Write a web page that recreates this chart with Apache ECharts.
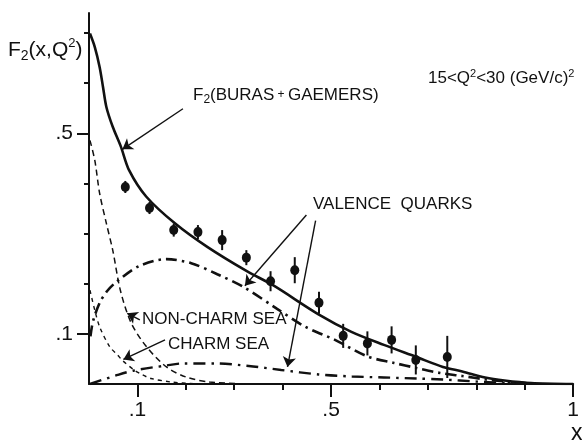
<!DOCTYPE html>
<html>
<head>
<meta charset="utf-8">
<script src="https://cdn.jsdelivr.net/npm/echarts@6/dist/echarts.min.js"></script>
<style>
  html, body { margin: 0; padding: 0; background: #fff; }
  #chart { width: 582px; height: 444px; }
</style>
</head>
<body>
<div id="chart"></div>
<script>
// Structure function F2(x,Q^2) for 15 < Q^2 < 30 (GeV/c)^2 with its model components.

// Measured F2 points (bin centres in x), values and errors
const measX   = [0.075, 0.125, 0.175, 0.225, 0.275, 0.325, 0.375, 0.425, 0.475, 0.525, 0.575, 0.625, 0.675, 0.74];
const measF2  = [0.393, 0.351, 0.307, 0.303, 0.287, 0.252, 0.205, 0.227, 0.162, 0.096, 0.081, 0.088, 0.048, 0.054];
const measErr = [0.012, 0.012, 0.013, 0.014, 0.020, 0.015, 0.020, 0.026, 0.022, 0.024, 0.024, 0.027, 0.029, 0.042];

// F2 from the Buras-Gaemers parametrisation
const f2X = [0.002, 0.012, 0.022, 0.029, 0.036, 0.049, 0.066, 0.083, 0.118, 0.178, 0.245, 0.326, 0.38, 0.474, 0.542, 0.609, 0.676, 0.731, 0.771, 0.818, 0.858, 0.913, 1.0];
const f2Y = [0.699, 0.672, 0.632, 0.592, 0.552, 0.513, 0.473, 0.426, 0.374, 0.320, 0.273, 0.225, 0.197, 0.139, 0.104, 0.078, 0.054, 0.034, 0.025, 0.013, 0.007, 0.002, 0];

// Valence quark contributions (larger and smaller)
const valUX = [0.003, 0.008, 0.022, 0.038, 0.057, 0.103, 0.16, 0.211, 0.265, 0.32, 0.387, 0.447, 0.508, 0.575, 0.63, 0.676, 0.725, 0.771, 0.82, 0.86, 0.92];
const valUY = [0.095, 0.124, 0.162, 0.186, 0.204, 0.235, 0.249, 0.241, 0.219, 0.193, 0.151, 0.114, 0.088, 0.055, 0.042, 0.032, 0.022, 0.016, 0.009, 0.005, 0.001];
const valDX = [0.002, 0.059, 0.093, 0.16, 0.194, 0.261, 0.33, 0.397, 0.474, 0.543, 0.609, 0.676, 0.731, 0.8, 0.88];
const valDY = [0, 0.018, 0.027, 0.037, 0.041, 0.041, 0.036, 0.028, 0.019, 0.015, 0.013, 0.011, 0.009, 0.005, 0.001];

// Sea contributions
const nonCharmX = [0.002, 0.012, 0.022, 0.036, 0.049, 0.065, 0.087, 0.119, 0.16, 0.2, 0.249, 0.33];
const nonCharmY = [0.486, 0.446, 0.38, 0.32, 0.267, 0.186, 0.122, 0.074, 0.034, 0.014, 0.004, 0];
const charmX = [0.002, 0.012, 0.022, 0.043, 0.059, 0.069, 0.093, 0.109, 0.128, 0.17, 0.225];
const charmY = [0.187, 0.147, 0.114, 0.074, 0.058, 0.047, 0.028, 0.019, 0.011, 0.004, 0];

// Axis ticks and labels
const xMinorTicks = [0.1, 0.2, 0.3, 0.4, 0.5, 0.6, 0.7, 0.8, 0.9, 1.0];
const xMajorTicks = [0.1, 0.5, 1.0];
const xTickLabels = ['.1', '.5', '1'];
const yMinorTicks = [0.1, 0.2, 0.3, 0.4, 0.5, 0.6, 0.7];
const yMajorTicks = [0.1, 0.5];
const yTickLabels = ['.1', '.5'];

const INK = '#111111';
const FONT = '"Liberation Sans", Arial, sans-serif';

const zip = (xs, ys) => xs.map((x, i) => [x, ys[i]]);
const labelFor = (ticks, labels) => v => {
  const i = ticks.findIndex(t => Math.abs(t - v) < 1e-6);
  return i >= 0 ? labels[i] : '';
};

function curve(name, xs, ys, width, type) {
  return {
    name, type: 'line', data: zip(xs, ys),
    xAxisIndex: 0, yAxisIndex: 0,
    showSymbol: false, symbol: 'none',
    smooth: 0.3,
    lineStyle: { color: INK, width, type },
    silent: true, z: 3
  };
}

// Annotation arrows in data coordinates: [from, to]
const arrows = [
  [[0.194, 0.549], [0.069, 0.468]],
  [[0.449, 0.337], [0.322, 0.196]],
  [[0.468, 0.326], [0.410, 0.034]],
  [[0.105, 0.128], [0.079, 0.141]],
  [[0.157, 0.088], [0.071, 0.049]]
];

const chart = echarts.init(document.getElementById('chart'), null, { renderer: 'canvas' });

const baseX = {
  type: 'value', min: 0, max: 1, interval: 0.1, position: 'bottom', offset: 0,
  splitLine: { show: false }
};
const baseY = {
  type: 'value', min: 0, max: 0.74, interval: 0.1, position: 'left', offset: 0,
  splitLine: { show: false }
};

const sup = (fs) => ({ fontSize: fs, fontFamily: FONT, fill: INK, verticalAlign: 'top', lineHeight: fs + 1 });
const sub = (fs) => ({ fontSize: fs, fontFamily: FONT, fill: INK, verticalAlign: 'bottom', lineHeight: fs + 1 });
const main = (fs, lh) => ({ fontSize: fs, fontFamily: FONT, fill: INK, lineHeight: lh });

function note(x, y, text, rich) {
  return {
    type: 'text', x, y, silent: true, z: 10,
    style: { text, rich, verticalAlign: 'middle', align: 'left', fill: INK, fontFamily: FONT }
  };
}

chart.setOption({
  animation: false,
  backgroundColor: '#fff',
  grid: { left: 89, top: 13, width: 494, height: 371, containLabel: false },
  xAxis: [
    Object.assign({}, baseX, {
      axisLine: { show: true, lineStyle: { color: INK, width: 2 } },
      axisTick: { show: true, inside: false, length: 6, lineStyle: { color: INK, width: 2 }, customValues: xMinorTicks },
      axisLabel: { show: true, customValues: xMajorTicks, formatter: labelFor(xMajorTicks, xTickLabels),
                   color: INK, fontSize: 21, fontFamily: FONT, margin: 16 }
    }),
    Object.assign({}, baseX, {
      axisLine: { show: false },
      axisTick: { show: true, inside: false, length: 13, lineStyle: { color: INK, width: 2 }, customValues: xMajorTicks },
      axisLabel: { show: false }
    })
  ],
  yAxis: [
    Object.assign({}, baseY, {
      axisLine: { show: true, lineStyle: { color: INK, width: 2 } },
      axisTick: { show: true, inside: false, length: 5, lineStyle: { color: INK, width: 2 }, customValues: yMinorTicks },
      axisLabel: { show: true, customValues: yMajorTicks, formatter: labelFor(yMajorTicks, yTickLabels),
                   color: INK, fontSize: 21, fontFamily: FONT, margin: 16 }
    }),
    Object.assign({}, baseY, {
      axisLine: { show: false },
      axisTick: { show: true, inside: false, length: 12, lineStyle: { color: INK, width: 2 }, customValues: yMajorTicks },
      axisLabel: { show: false }
    })
  ],
  series: [
    Object.assign(curve('F2 (Buras + Gaemers)', f2X, f2Y, 2.6, 'solid'), {
      markLine: {
        silent: true, animation: false,
        symbol: ['none', 'arrow'], symbolSize: 10,
        lineStyle: { color: INK, width: 1.4, type: 'solid' },
        label: { show: false },
        emphasis: { disabled: true },
        data: arrows.map(([a, b]) => [{ coord: a }, { coord: b }])
      }
    }),
    curve('Valence quarks (1)', valUX, valUY, 2.6, [11, 5, 2.5, 5]),
    curve('Valence quarks (2)', valDX, valDY, 2.4, [12, 6, 2.5, 6]),
    curve('Non-charm sea', nonCharmX, nonCharmY, 1.5, [6, 4]),
    curve('Charm sea', charmX, charmY, 1.4, [4, 4]),
    {
      name: 'errors', type: 'custom', xAxisIndex: 0, yAxisIndex: 0, silent: true, z: 4,
      data: measX.map((x, i) => [x, measF2[i], measErr[i]]),
      encode: { x: 0, y: 1 },
      renderItem(params, api) {
        const x = api.value(0), y = api.value(1), e = api.value(2);
        const top = api.coord([x, y + e]);
        const bot = api.coord([x, y - e]);
        return {
          type: 'line',
          shape: { x1: top[0], y1: top[1], x2: bot[0], y2: bot[1] },
          style: { stroke: INK, lineWidth: 2 }
        };
      }
    },
    {
      name: 'data', type: 'scatter', xAxisIndex: 0, yAxisIndex: 0, silent: true, z: 5,
      data: zip(measX, measF2),
      symbol: 'circle', symbolSize: [9, 10],
      itemStyle: { color: INK, opacity: 1 }
    }
  ],
  graphic: [
    note(8, 50, '{m|F}{s|2}{m|(x,Q}{p|2}{m|)}', { m: main(21, 26), s: sub(14), p: sup(13) }),
    note(193, 95, '{m|F}{s|2}{m|(BURAS}{k| + }{m|GAEMERS)}', { m: main(17, 22), s: sub(12), k: main(12, 22) }),
    note(428, 78, '{m|15<Q}{p|2}{m|<30 (GeV/c)}{p|2}', { m: main(17, 20), p: sup(11) }),
    note(313, 204, '{m|VALENCE  QUARKS}', { m: main(17, 22) }),
    note(142, 319, '{m|NON-CHARM SEA}', { m: main(17, 22) }),
    note(168, 344, '{m|CHARM SEA}', { m: main(17, 22) }),
    note(571, 434, '{m|x}', { m: main(23, 26) })
  ]
});
</script>
</body>
</html>
